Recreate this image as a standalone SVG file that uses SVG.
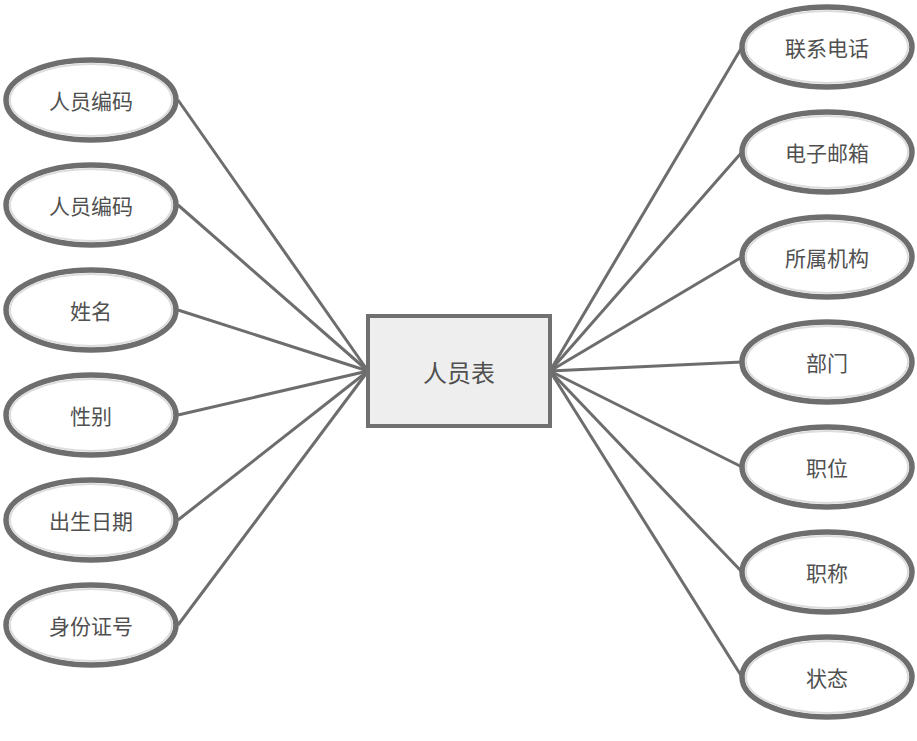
<svg xmlns="http://www.w3.org/2000/svg" width="917" height="741" viewBox="0 0 917 741">
<style>
.e{fill:#ffffff;stroke:#6e6e6e;stroke-width:5.5}
.ei{fill:none;stroke:#dcdcdc;stroke-width:2}
.t{font-family:"Noto Sans CJK SC","Liberation Sans",sans-serif;font-size:21px;fill:#505050;text-anchor:middle;dominant-baseline:central}
.c{stroke:#6d6d6d;stroke-width:3;fill:none}
</style>
<rect width="917" height="741" fill="#ffffff"/>
<g id="connectors">
<line class="c" x1="178" y1="100" x2="368" y2="371"/>
<line class="c" x1="178" y1="205" x2="368" y2="371"/>
<line class="c" x1="178" y1="310" x2="368" y2="371"/>
<line class="c" x1="178" y1="415" x2="368" y2="371"/>
<line class="c" x1="178" y1="520" x2="368" y2="371"/>
<line class="c" x1="178" y1="625" x2="368" y2="371"/>
<line class="c" x1="742" y1="47" x2="550" y2="371"/>
<line class="c" x1="742" y1="152" x2="550" y2="371"/>
<line class="c" x1="742" y1="257" x2="550" y2="371"/>
<line class="c" x1="742" y1="362" x2="550" y2="371"/>
<line class="c" x1="742" y1="467" x2="550" y2="371"/>
<line class="c" x1="742" y1="572" x2="550" y2="371"/>
<line class="c" x1="742" y1="677" x2="550" y2="371"/>
</g>
<g id="center">
<rect x="368" y="316" width="182" height="110" fill="#eeeeee" stroke="#707070" stroke-width="4"/>
<text class="t" x="459" y="371" style="font-size:24px">人员表</text>
</g>
<g id="l1"><ellipse class="e" cx="91" cy="100" rx="85" ry="40"/><ellipse class="ei" cx="91" cy="100" rx="81" ry="36"/><text class="t" x="91" y="100">人员编码</text></g>
<g id="l2"><ellipse class="e" cx="91" cy="205" rx="85" ry="40"/><ellipse class="ei" cx="91" cy="205" rx="81" ry="36"/><text class="t" x="91" y="205">人员编码</text></g>
<g id="l3"><ellipse class="e" cx="91" cy="310" rx="85" ry="40"/><ellipse class="ei" cx="91" cy="310" rx="81" ry="36"/><text class="t" x="91" y="310">姓名</text></g>
<g id="l4"><ellipse class="e" cx="91" cy="415" rx="85" ry="40"/><ellipse class="ei" cx="91" cy="415" rx="81" ry="36"/><text class="t" x="91" y="415">性别</text></g>
<g id="l5"><ellipse class="e" cx="91" cy="520" rx="85" ry="40"/><ellipse class="ei" cx="91" cy="520" rx="81" ry="36"/><text class="t" x="91" y="520">出生日期</text></g>
<g id="l6"><ellipse class="e" cx="91" cy="625" rx="85" ry="40"/><ellipse class="ei" cx="91" cy="625" rx="81" ry="36"/><text class="t" x="91" y="625">身份证号</text></g>
<g id="r1"><ellipse class="e" cx="827" cy="47" rx="85" ry="40"/><ellipse class="ei" cx="827" cy="47" rx="81" ry="36"/><text class="t" x="827" y="47">联系电话</text></g>
<g id="r2"><ellipse class="e" cx="827" cy="152" rx="85" ry="40"/><ellipse class="ei" cx="827" cy="152" rx="81" ry="36"/><text class="t" x="827" y="152">电子邮箱</text></g>
<g id="r3"><ellipse class="e" cx="827" cy="257" rx="85" ry="40"/><ellipse class="ei" cx="827" cy="257" rx="81" ry="36"/><text class="t" x="827" y="257">所属机构</text></g>
<g id="r4"><ellipse class="e" cx="827" cy="362" rx="85" ry="40"/><ellipse class="ei" cx="827" cy="362" rx="81" ry="36"/><text class="t" x="827" y="362">部门</text></g>
<g id="r5"><ellipse class="e" cx="827" cy="467" rx="85" ry="40"/><ellipse class="ei" cx="827" cy="467" rx="81" ry="36"/><text class="t" x="827" y="467">职位</text></g>
<g id="r6"><ellipse class="e" cx="827" cy="572" rx="85" ry="40"/><ellipse class="ei" cx="827" cy="572" rx="81" ry="36"/><text class="t" x="827" y="572">职称</text></g>
<g id="r7"><ellipse class="e" cx="827" cy="677" rx="85" ry="40"/><ellipse class="ei" cx="827" cy="677" rx="81" ry="36"/><text class="t" x="827" y="677">状态</text></g>
</svg>
